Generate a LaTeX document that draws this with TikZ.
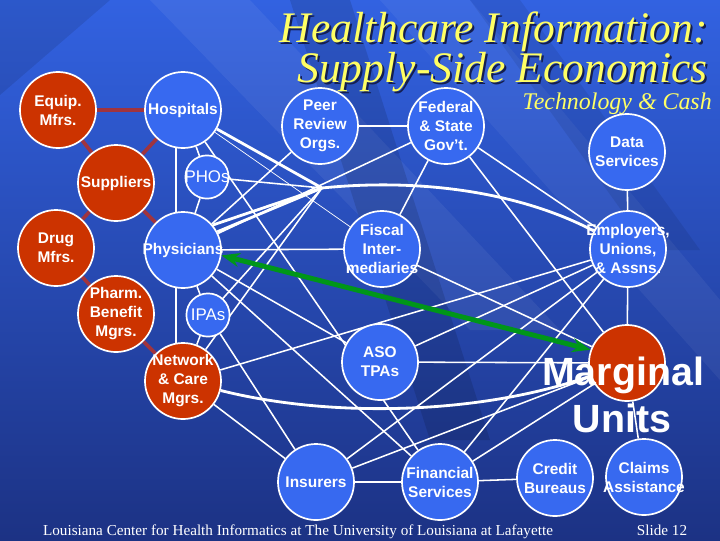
\documentclass[tikz,border=0pt]{standalone}
\usepackage{fontspec}
\setmainfont{Liberation Serif}
\setsansfont{Liberation Sans}
\usetikzlibrary{arrows.meta,positioning}
\definecolor{bgtop}{RGB}{50,98,225}
\definecolor{bgbot}{RGB}{28,50,132}
\definecolor{nodeblue}{RGB}{55,105,240}
\definecolor{nodered}{RGB}{204,51,0}
\definecolor{redline}{RGB}{160,52,62}
\definecolor{ttl}{RGB}{255,255,100}
\definecolor{ttlshadow}{RGB}{20,30,80}
\definecolor{arrowgreen}{RGB}{0,150,25}
\pgfdeclarelayer{back}
\pgfdeclarelayer{wires}
\pgfsetlayers{back,wires,main}

\begin{document}
\begin{tikzpicture}[x=0.025cm,y=-0.025cm,
  bub/.style={circle,draw=white,line width=1.2pt,fill=nodeblue,minimum size=1.9cm,inner sep=0pt},
  redbub/.style={bub,fill=nodered},
  smallbub/.style={bub,minimum size=1.08cm},
  txt/.style={text=white,font=\sffamily\bfseries\fontsize{11}{13.5}\selectfont,align=center,inner sep=0pt},
  lighttxt/.style={text=white,font=\sffamily\fontsize{12}{14}\selectfont,inner sep=0pt},
  bigtxt/.style={text=white,font=\sffamily\bfseries\fontsize{28}{33}\selectfont,inner sep=0pt,anchor=base},
  ttltxt/.style={font=\itshape\fontsize{31}{36}\selectfont,inner sep=0pt,anchor=base east},
  foot/.style={text=white,font=\fontsize{10.8}{13}\selectfont,inner sep=0pt,anchor=base},
  wire/.style={white,line width=1.1pt},
  heavy/.style={white,line width=2pt},
  fine/.style={white,line width=0.5pt},
  tie/.style={redline,line width=2.6pt},
  garrow/.style={arrowgreen,line width=3.5pt,arrows={Stealth[length=13pt,width=10pt]-Stealth[length=13pt,width=10pt]}}]
\useasboundingbox (0,0) rectangle (720,540);
\begin{pgfonlayer}{back}
\shade[top color=bgtop,bottom color=bgbot] (0,0) rectangle (720,540);
\begin{scope}
\clip (0,0) rectangle (720,540);
\fill[black,opacity=0.10] (0,0) -- (110,0) -- (0,95) -- cycle;
\fill[white,opacity=0.06] (150,0) -- (250,0) -- (560,330) -- (470,330) -- cycle;
\fill[black,opacity=0.12] (290,0) -- (350,0) -- (490,440) -- (430,440) -- cycle;
\fill[white,opacity=0.05] (380,0) -- (470,0) -- (720,300) -- (720,380) -- cycle;
\fill[black,opacity=0.08] (470,0) -- (520,0) -- (700,250) -- (650,250) -- cycle;
\end{scope}
\end{pgfonlayer}

\node[ttltxt,text=ttlshadow] (t1s) at (710,44) {Healthcare Information:};
\node[ttltxt,text=ttl] (t1) at (708,42) {Healthcare Information:};
\node[ttltxt,text=ttlshadow] (t2s) at (710,84) {Supply-Side Economics};
\node[ttltxt,text=ttl] (t2) at (708,82) {Supply-Side Economics};
\node[ttltxt,text=ttl,font=\itshape\fontsize{17}{20}\selectfont] (sub) at (712,109) {Technology \& Cash};

\node[redbub,label={[txt]center:{Equip.\\Mfrs.}}] (equip) at (58,110) {};
\node[bub,label={[txt]center:Hospitals}] (hosp) at (183,110) {};
\node[redbub,label={[txt]center:Suppliers}] (supp) at (116,183) {};
\node[smallbub,label={[lighttxt]center:PHOs}] (phos) at (207,177) {};
\node[redbub,label={[txt]center:{Drug\\Mfrs.}}] (drug) at (56,248) {};
\node[bub,label={[txt]center:Physicians}] (phys) at (183,250) {};
\node[redbub,label={[txt]center:{Pharm.\\Benefit\\Mgrs.}}] (pbm) at (116,314) {};
\node[smallbub,label={[lighttxt]center:IPAs}] (ipas) at (208,315) {};
\node[redbub,label={[txt]center:{Network\\\& Care\\Mgrs.}}] (net) at (183,381) {};
\node[bub,label={[txt]center:{Peer\\Review\\Orgs.}}] (peer) at (320,126) {};
\node[bub,label={[txt]center:{Federal\\\& State\\Gov’t.}}] (fed) at (446,126) {};
\node[bub,label={[txt]center:{Data\\Services}}] (data) at (627,152) {};
\node[bub,label={[txt]center:{Fiscal\\Inter-\\mediaries}}] (fisc) at (382,249) {};
\node[bub,label={[txt]center:{Employers,\\Unions,\\\& Assns.}}] (emp) at (628,249) {};
\node[bub,label={[txt]center:{ASO\\TPAs}}] (aso) at (380,362) {};
\node[redbub] (marg) at (627,363) {};
\node[bub,label={[txt]center:Insurers}] (ins) at (316,482) {};
\node[bub,label={[txt]center:{Financial\\Services}}] (fin) at (440,482) {};
\node[bub,label={[txt]center:{Credit\\Bureaus}}] (cred) at (555,478) {};
\node[bub,label={[txt]center:{Claims\\Assistance}}] (claim) at (644,477) {};
\coordinate (hub) at (322,188);

\node[bigtxt] (mlbl1) at (623,385) {Marginal};
\node[bigtxt] (mlbl2) at (622,432) {Units};

\begin{pgfonlayer}{wires}
\draw[tie] (equip) -- (hosp);
\draw[tie] (equip) -- (supp);
\draw[tie] (supp) -- (hosp);
\draw[tie] (supp) -- (drug);
\draw[tie] (supp) -- (phys);
\draw[tie] (drug) -- (pbm);
\draw[tie] (pbm) -- (net);
\draw[wire] (hosp.260) -- (phys.100);
\draw[wire] (hosp) -- (phos);
\draw[wire] (phos) -- (phys);
\draw[wire] (phys.260) -- (net.100);
\draw[wire] (phys) -- (ipas);
\draw[wire] (ipas) -- (net);
\draw[wire] (peer) -- (fed);
\draw[wire] (peer) -- (phys);
\draw[fine] (hosp) -- (fisc);
\draw[heavy] (hosp) -- (hub);
\draw[wire] (phos) -- (hub);
\draw[heavy] (phys.40) -- (hub);
\draw[heavy] (phys.28) -- (hub);
\draw[wire] (hub) -- (net);
\draw[wire] (hub) -- (ipas);
\draw[heavy] (hub) .. controls (420,178) and (520,192) .. (emp);
\draw[heavy] (net) .. controls (330,418) and (480,415) .. (marg);
\draw[wire] (fed) -- (phys);
\draw[wire] (fed) -- (fisc);
\draw[wire] (fed) -- (marg);
\draw[wire] (fed) -- (emp);
\draw[wire] (data) -- (emp);
\draw[wire] (emp) -- (marg);
\draw[wire] (fisc) -- (marg);
\draw[wire] (phys) -- (fisc);
\draw[wire] (emp) -- (net);
\draw[wire] (emp) -- (aso);
\draw[wire] (emp) -- (ins);
\draw[wire] (emp) -- (fin);
\draw[wire] (aso) -- (marg);
\draw[wire] (phys) -- (aso);
\draw[wire] (hosp) -- (fin);
\draw[wire] (phys) -- (fin);
\draw[wire] (ipas) -- (ins);
\draw[wire] (net) -- (ins);
\draw[wire] (ins) -- (fin);
\draw[wire] (fin) -- (cred);
\draw[wire] (marg) -- (claim);
\draw[wire] (ins) -- (marg);
\draw[wire] (fin) -- (marg);
\end{pgfonlayer}
\draw[garrow] (phys.-8) -- (marg.160);

\node[foot] (ftr) at (298,535) {Louisiana Center for Health Informatics at The University of Louisiana at Lafayette};
\node[foot] (slide) at (662,535) {Slide 12};
\end{tikzpicture}
\end{document}
